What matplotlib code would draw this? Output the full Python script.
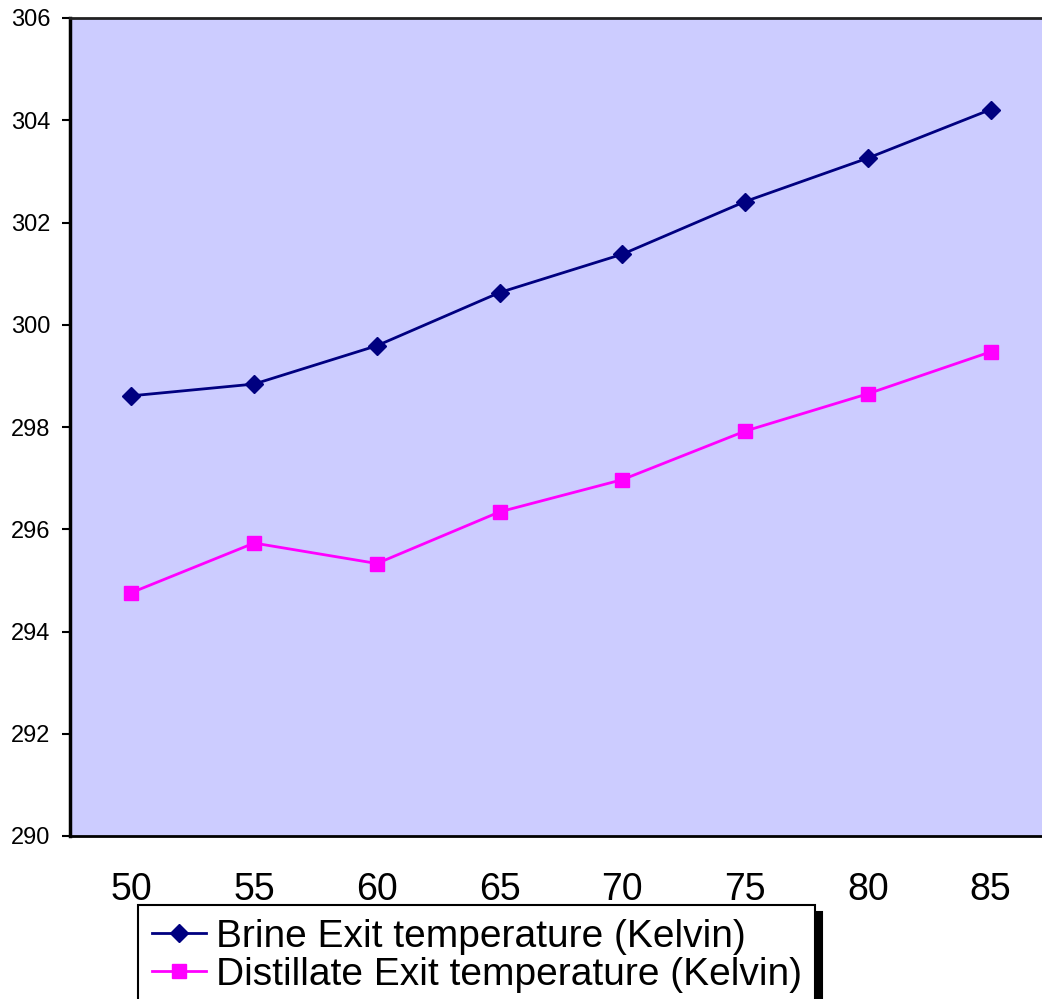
import matplotlib
matplotlib.use('Agg')
import matplotlib.pyplot as plt

plt.rcParams['font.family'] = ['Liberation Sans', 'DejaVu Sans']

# 数据
x_labels = ['50', '55', '60', '65', '70', '75', '80', '85']
brine = [298.61, 298.84, 299.59, 300.63, 301.38, 302.41, 303.26, 304.21]
distillate = [294.76, 295.73, 295.33, 296.34, 296.97, 297.92, 298.65, 299.47]
y_ticks = [290, 292, 294, 296, 298, 300, 302, 304, 306]

fig = plt.figure(figsize=(10.42, 9.99), dpi=100)
ax = fig.add_axes([70/1042, 1-836/999, (1052-70)/1042, (836-18)/999])
ax.set_facecolor('#CCCCFF')

pos = list(range(len(x_labels)))
ax.plot(pos, brine, color='#000080', lw=2, marker='D', ms=9,
        label='Brine Exit temperature (Kelvin)')
ax.plot(pos, distillate, color='#FF00FF', lw=2, marker='s', ms=10,
        label='Distillate Exit temperature (Kelvin)')

ax.set_xlim(-0.5, len(x_labels) - 0.5)
ax.set_ylim(290, 306)
ax.set_yticks(y_ticks)
ax.set_yticklabels([str(v) for v in y_ticks], fontsize=17)
ax.set_xticks(pos)
ax.set_xticklabels(x_labels, fontsize=27)
ax.tick_params(axis='x', length=0, pad=26)
ax.tick_params(axis='y', length=6, width=1.5, pad=8)

ax.spines['right'].set_visible(False)
ax.spines['left'].set_linewidth(2.5)
ax.spines['bottom'].set_linewidth(2)
ax.spines['top'].set_linewidth(2)
ax.spines['top'].set_color('#222222')

# 图例
leg = fig.legend(loc='upper left', bbox_to_anchor=(138/1042, 1-905/999),
                 fontsize=28, frameon=True, fancybox=False, edgecolor='black',
                 shadow={'ox': 5, 'oy': -5, 'color': 'black', 'alpha': 1},
                 handlelength=1.4, handletextpad=0.25, borderpad=0.35,
                 labelspacing=0.05, borderaxespad=0)
leg.get_frame().set_linewidth(1.5)

fig.savefig('out.png', dpi=100)
